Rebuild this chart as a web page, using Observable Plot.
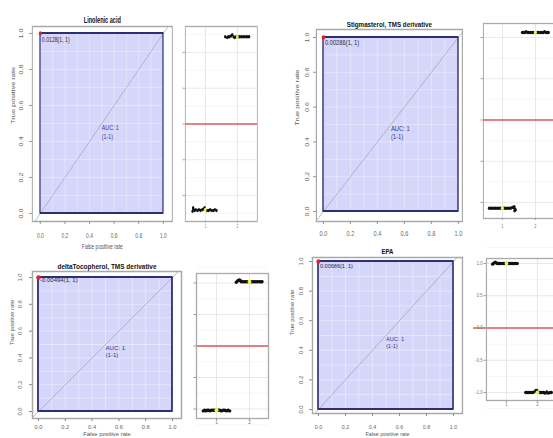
<!DOCTYPE html>
<html><head><meta charset="utf-8">
<script src="https://cdn.jsdelivr.net/npm/d3@7"></script>
<script src="https://cdn.jsdelivr.net/npm/@observablehq/plot@0.6"></script>
<style>
html,body{margin:0;padding:0;background:#fff;overflow:hidden;width:553px;height:438px}
#stage{position:absolute;left:0;top:0;width:553px;height:438px;overflow:hidden}
#stage svg{position:absolute;overflow:visible;max-width:none !important;background:transparent !important;transform-origin:0 0}
</style></head><body><div id="stage"></div>
<script>
// ---------------- data ----------------
const panelTitles = ["Linolenic acid", "Stigmasterol, TMS derivative", "deltaTocopherol, TMS derivative", "EPA"];
const thresholds = ["0.0128", "0.00286", "-0.00494", "0.00686"];
const aucText = "AUC: 1\n(1-1)";
const rocFPR = [0, 0, 1];
const rocTPR = [0, 1, 1];
const bestFPR = [0];
const bestTPR = [1];
const aucAnchor = [0.5];
const rocTicks = [0, 0.2, 0.4, 0.6, 0.8, 1];
const rocGrid = [0, 0.1, 0.2, 0.3, 0.4, 0.5, 0.6, 0.7, 0.8, 0.9, 1];
const diagLine = [-0.2, 1.2];
const groupTicks = [1, 2];
const stripTicks = [-1, -0.5, 0, 0.5, 1];
const stripMinor = [-1.25, -0.75, -0.25, 0.25, 0.75, 1.25];
const cutoff = [0];

// strip points: Linolenic acid
const linX = [0.60,0.62,0.62,0.66,0.70,0.75,0.80,0.85,0.90,0.94,0.98,1.05,1.10,1.15,1.20,1.25,1.30,1.35,
              1.62,1.68,1.72,1.76,1.80,1.84,1.88,1.92,1.96,2.04,2.08,2.13,2.18,2.23,2.28,2.33,2.37];
const linY = [-1.22,-1.17,-1.19,-1.21,-1.20,-1.21,-1.20,-1.21,-1.20,-1.19,-1.17,-1.21,-1.21,-1.20,-1.21,-1.21,-1.20,-1.21,
              1.22,1.21,1.22,1.22,1.23,1.25,1.22,1.21,1.22,1.22,1.22,1.22,1.22,1.22,1.22,1.22,1.22];
const linMeanX = [1, 2];
const linMeanY = [-1.2, 1.22];
// Stigmasterol
const stgX = [0.60,0.65,0.70,0.75,0.80,0.85,0.90,0.95,1.05,1.10,1.15,1.20,1.25,1.30,1.33,1.36,1.38,1.40,1.37,
              1.60,1.64,1.68,1.72,1.76,1.80,1.84,1.90,1.95,2.05,2.10,2.15,2.20,2.24,2.28,2.32,2.36,2.40];
const stgY = [-1.07,-1.07,-1.07,-1.07,-1.07,-1.07,-1.07,-1.07,-1.07,-1.07,-1.07,-1.07,-1.07,-1.06,-1.06,-1.05,-1.08,-1.09,-1.10,
              1.06,1.06,1.06,1.07,1.06,1.06,1.06,1.06,1.06,1.06,1.06,1.06,1.06,1.06,1.07,1.06,1.06,1.06];
const stgMeanX = [1, 2];
const stgMeanY = [-1.07, 1.06];
// deltaTocopherol
const tocX = [0.60,0.64,0.68,0.72,0.76,0.80,0.85,0.90,0.95,1.05,1.10,1.15,1.20,1.25,1.30,1.35,1.40,
              1.60,1.63,1.66,1.69,1.72,1.75,1.80,1.85,1.90,1.95,2.05,2.10,2.15,2.20,2.25,2.30,2.35,2.38];
const tocY = [-1.03,-1.02,-1.03,-1.02,-1.02,-1.03,-1.02,-1.02,-1.02,-1.02,-1.02,-1.03,-1.02,-1.02,-1.03,-1.02,-1.03,
              1.01,1.03,1.04,1.05,1.04,1.02,1.02,1.02,1.02,1.02,1.02,1.02,1.02,1.02,1.02,1.02,1.02,1.02];
const tocMeanX = [1, 2];
const tocMeanY = [-1.02, 1.02];
// EPA
const epaX = [0.55,0.58,0.61,0.64,0.67,0.70,0.74,0.78,0.82,0.87,0.92,0.97,1.05,1.10,1.15,1.20,1.25,1.30,1.35,
              1.62,1.66,1.70,1.75,1.80,1.85,1.90,1.95,1.98,2.05,2.10,2.15,2.20,2.25,2.30,2.35,2.40,2.45];
const epaY = [0.99,1.00,1.01,1.02,1.01,1.00,1.00,1.00,1.00,1.00,1.00,1.00,1.00,1.00,1.00,1.00,1.00,1.00,1.00,
              -1.00,-1.00,-1.00,-1.00,-1.00,-1.00,-0.99,-0.97,-0.97,-1.00,-1.00,-1.00,-1.00,-1.01,-0.99,-1.01,-1.00,-1.00];
const epaMeanX = [1, 2];
const epaMeanY = [1.0, -1.0];

// ---------------- layout (screen px) ----------------
const FONT = "Liberation Sans, Arial, Helvetica, sans-serif";
const rocLayout = [
  {frame:[32,26,172,221], x0:40, x1:163, y1:33, y0:213, s:0.68, base:7.6, titleY:17, xTickY:235, xlabelY:249, yTickOff:13, ylabelOff:18.5, thrDy:6},
  {frame:[316,29,462,221], x0:323, x1:458, y1:37, y0:211, s:0.78, base:7.4, titleY:21, xTickY:233, xlabelY:null, yTickOff:11, ylabelOff:19.5, thrDy:5},
  {frame:[32,271,181,418], x0:38, x1:172, y1:277, y0:411, s:1.0, base:6.0, titleY:264, xTickY:426.5, xlabelY:435, yTickOff:14, ylabelOff:20, thrDy:3},
  {frame:[312,257,462,413], x0:318, x1:453, y1:261, y0:409, s:0.91, base:6.1, titleY:249, xTickY:426.5, xlabelY:435, yTickOff:13, ylabelOff:20, thrDy:5}
];
const stripLayout = [
  {frame:[185,26,257,221], g1:205, g2:237, yZero:123.5, perUnit:71.5, s:0.68, labY:226, labels:false, redLeft:185},
  {frame:[483,23,557,218], g1:502, g2:535, yZero:119.5, perUnit:82.5, s:0.78, labY:226, labels:false, redLeft:483},
  {frame:[196,273,268,418], g1:216, g2:249, yZero:345.5, perUnit:63, s:1.0, labY:422, labels:false, redLeft:196},
  {frame:[486,258,557,400], g1:506, g2:537, yZero:327.5, perUnit:64.5, s:0.91, labY:404, labels:true, redLeft:473}
];
const stripData = [
  [linX, linY, linMeanX, linMeanY],
  [stgX, stgY, stgMeanX, stgMeanY],
  [tocX, tocY, tocMeanX, tocMeanY],
  [epaX, epaY, epaMeanX, epaMeanY]
];

const stage = document.getElementById("stage");
function place(svg, left, top, s) {
  svg.style.left = left + "px";
  svg.style.top = top + "px";
  svg.style.transform = `scaleX(${s})`;
  stage.appendChild(svg);
}
const fmt1 = d => d.toFixed(1);

function rocPanel(i) {
  const g = rocLayout[i];
  const [fl, ft, fr, fb] = g.frame;
  const s = g.s, b = g.base;
  const xu = g.x1 - g.x0, yu = g.y0 - g.y1;
  const xd = [-(g.x0 - fl) / xu, 1 + (fr - g.x1) / xu];
  const yd = [-(fb - g.y0) / yu, 1 + (g.y1 - ft) / yu];
  const L = fl - 28, R = fr + 4, T = ft - 16, B = fb + 30;
  const roc = rocFPR.map((d, k) => ({fpr: d, tpr: rocTPR[k]}));
  const best = bestFPR.map((d, k) => ({fpr: d, tpr: bestTPR[k]}));
  const tickFont = b * 0.96;
  const yPad = g.yTickOff / s - 3 / s - 0.65 * tickFont;
  const xPad = (g.xTickY - fb) - 3 - 0.35 * tickFont;
  const marks = [
    Plot.areaY(roc, {x: "fpr", y: "tpr", fill: "#d5d6fa"}),
    Plot.gridX(rocGrid, {stroke: "#ffffff", strokeOpacity: 0.5, strokeWidth: 0.8, y1: 0, y2: 1}),
    Plot.gridY(rocGrid, {stroke: "#ffffff", strokeOpacity: 0.5, strokeWidth: 0.8, x1: 0, x2: 1}),
    Plot.line(diagLine, {x: d => d, y: d => d, stroke: "#a9a9bd", strokeWidth: 0.9, clip: true}),
    Plot.areaY(roc, {x: "fpr", y: "tpr", fill: "none", stroke: "#2e2e72", strokeWidth: 1.8}),
    Plot.frame({stroke: "#a9a9a9", strokeWidth: 1.5}),
    Plot.axisX(rocTicks, {label: null, tickSize: 3, tickPadding: xPad, tickFormat: fmt1, fontSize: tickFont, stroke: "#888", fill: "#666"}),
    Plot.axisY(rocTicks, {label: null, tickSize: 3 / s, tickPadding: yPad, tickRotate: -90, tickFormat: fmt1, fontSize: tickFont, stroke: "#888", fill: "#666"}),
    Plot.dot(best, {x: "fpr", y: "tpr", r: 2.3, fill: "#e3202a"}),
    Plot.text(best, {x: "fpr", y: "tpr", text: () => thresholds[i] + "(1, 1)", textAnchor: "start", dx: 1.5 / s, dy: g.thrDy, fontSize: b, fill: "#2a2a3a"}),
    Plot.text(aucAnchor, {x: d => d, y: d => d, text: () => aucText, textAnchor: "start", lineAnchor: "top", lineHeight: 1.15, fontSize: b * 1.02, fill: "#3a3a90"}),
    Plot.text([panelTitles[i]], {frameAnchor: "top", dy: g.titleY - ft, fontWeight: "bold", fontSize: b * 1.08, fill: "#111"}),
    Plot.text(["True positive rate"], {frameAnchor: "left", rotate: -90, dx: -g.ylabelOff / s, fontSize: b * 0.98, fill: "#555"})
  ];
  if (g.xlabelY != null) {
    marks.push(Plot.text(["False positive rate"], {frameAnchor: "bottom", dy: g.xlabelY - fb, fontSize: b * 0.98, fill: "#555"}));
  }
  const svg = Plot.plot({
    width: (R - L) / s, height: B - T,
    marginLeft: (fl - L) / s, marginRight: (R - fr) / s, marginTop: ft - T, marginBottom: B - fb,
    x: {domain: xd, axis: null}, y: {domain: yd, axis: null},
    style: {fontFamily: FONT, background: "transparent", overflow: "visible"},
    marks
  });
  place(svg, L, T, s);
}

function stripPanel(i) {
  const g = stripLayout[i];
  const [fl, ft, fr, fb] = g.frame;
  const s = g.s;
  const gu = g.g2 - g.g1;
  const xd = [1 - (g.g1 - fl) / gu, 2 + (fr - g.g2) / gu];
  const yd = [(g.yZero - fb) / g.perUnit, (g.yZero - ft) / g.perUnit];
  const redX1 = 1 - (g.g1 - g.redLeft) / gu;
  const L = fl - 16, R = fr + 2, T = ft - 2, B = fb + 14;
  const [px, py, mx, my] = stripData[i];
  const pts = px.map((d, k) => ({x: d, y: py[k]}));
  const means = mx.map((d, k) => ({x: d, y: my[k]}));
  const marks = [
    Plot.gridY(stripMinor, {stroke: "#f0f0f0", strokeOpacity: 1, strokeWidth: 0.6}),
    Plot.gridY(stripTicks, {stroke: "#e2e2e2", strokeOpacity: 1, strokeWidth: 0.8}),
    Plot.gridX(groupTicks, {stroke: "#e2e2e2", strokeOpacity: 1, strokeWidth: 0.8 / s}),
    Plot.ruleY(cutoff, {x1: redX1, x2: xd[1], stroke: "#de5a5a", strokeWidth: 1.3}),
    Plot.dot(pts, {x: "x", y: "y", r: 1.7, fill: "#111", stroke: "none"}),
    Plot.dot(means, {x: "x", y: "y", r: 2.0, fill: "#f4f040", stroke: "none"}),
    Plot.frame({stroke: "#aaaaaa", strokeWidth: 1.3}),
    Plot.axisY(stripTicks, {label: null, tickSize: 2.5 / s, tickPadding: 1.5 / s, tickFormat: g.labels ? fmt1 : () => "", fontSize: 4.6, stroke: "#999", fill: "#777"}),
    Plot.axisX(groupTicks, {label: null, tickSize: 2, tickPadding: g.labY - fb - 4, tickFormat: d => String(d), fontSize: 4.8, stroke: "#999", fill: "#777"})
  ];
  const svg = Plot.plot({
    width: (R - L) / s, height: B - T,
    marginLeft: (fl - L) / s, marginRight: (R - fr) / s, marginTop: ft - T, marginBottom: B - fb,
    x: {domain: xd, axis: null}, y: {domain: yd, axis: null},
    style: {fontFamily: FONT, background: "transparent", overflow: "visible"},
    marks
  });
  place(svg, L, T, s);
}

for (let i = 0; i < 4; i++) { rocPanel(i); stripPanel(i); }
</script></body></html>
